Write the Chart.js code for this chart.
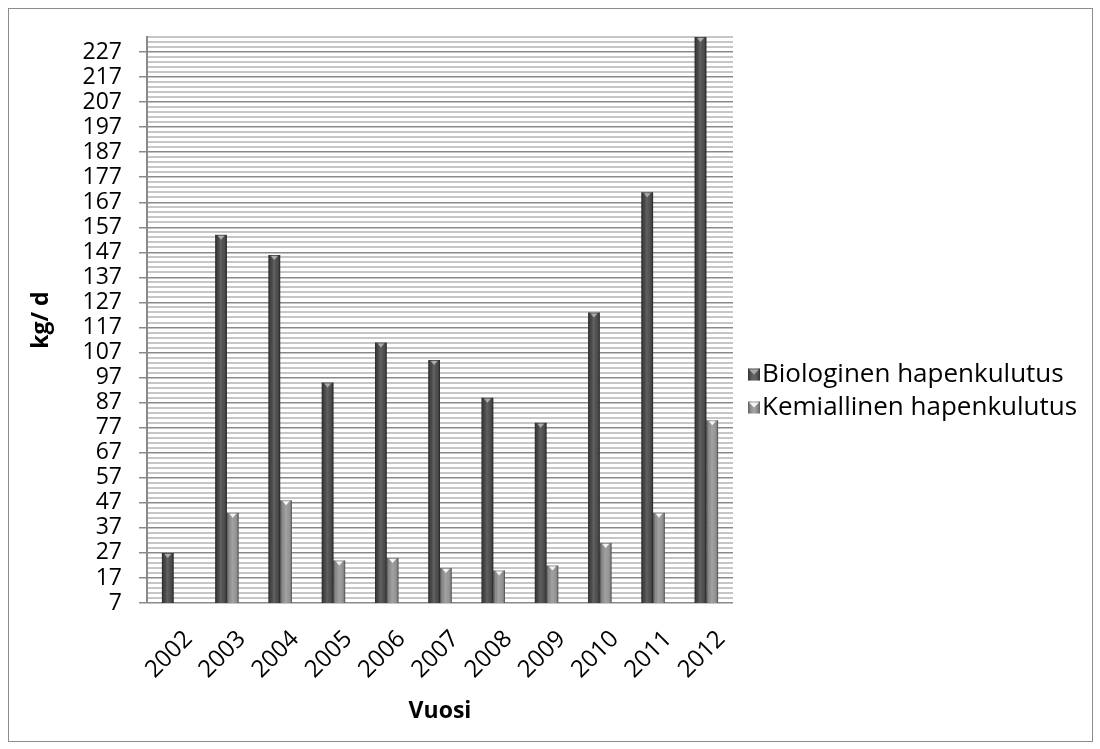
<!DOCTYPE html>
<html>
<head>
<meta charset="utf-8">
<script src="https://cdn.jsdelivr.net/npm/chart.js@4/dist/chart.umd.min.js"></script>
<style>
  html, body { margin: 0; padding: 0; background: #fff; }
  #wrap { position: relative; width: 1100px; height: 749px; }
  #frame { position: absolute; left: 8px; top: 8px; width: 1083px; height: 732px;
           border: 1px solid #8c8c8c; pointer-events: none; }
</style>
</head>
<body>
<div id="wrap">
  <canvas id="c" width="1100" height="749"></canvas>
  <div id="frame"></div>
</div>
<script>
// Years on the category axis
const years = ['2002', '2003', '2004', '2005', '2006', '2007', '2008', '2009', '2010', '2011', '2012'];
// Daily loads, kg/d
const biologinen = [27, 154, 146, 95, 111, 104, 89, 79, 123, 171, 233];
const kemiallinen = [null, 43, 48, 24, 25, 21, 20, 22, 31, 43, 80];
const seriesNames = ['Biologinen hapenkulutus', 'Kemiallinen hapenkulutus'];
// Value axis: labelled every 10 starting from 7, faint lines every 2
const axisMin = 7;
const axisMax = 233;
const minorStep = 2;
const majorStep = 10;

const FONT = '"Open Sans", "Noto Sans", sans-serif';
const barColors = ['#484848', '#939393'];

function isMajor(v) {
  return Math.round(v - axisMin) % majorStep === 0;
}

// Cylinder-like shading and the small highlight notch on each bar top
const barShading = {
  id: 'barShading',
  afterDatasetsDraw(chart) {
    const ctx = chart.ctx;
    const area = chart.chartArea;
    ctx.save();
    ctx.beginPath();
    ctx.rect(area.left, area.top - 1, area.right - area.left, area.bottom - area.top + 1);
    ctx.clip();
    chart.data.datasets.forEach((ds, di) => {
      const meta = chart.getDatasetMeta(di);
      meta.data.forEach((el, i) => {
        if (ds.data[i] == null) return;
        const p = el.getProps(['x', 'y', 'base', 'width'], true);
        const left = p.x - p.width / 2;
        const top = p.y;
        const bottom = Math.min(p.base, area.bottom);
        const g = ctx.createLinearGradient(left, 0, left + p.width, 0);
        g.addColorStop(0, 'rgba(0,0,0,0.45)');
        g.addColorStop(0.18, 'rgba(0,0,0,0.05)');
        g.addColorStop(0.45, 'rgba(255,255,255,0.14)');
        g.addColorStop(0.7, 'rgba(255,255,255,0.04)');
        g.addColorStop(0.88, 'rgba(0,0,0,0.12)');
        g.addColorStop(1, 'rgba(0,0,0,0.5)');
        ctx.fillStyle = g;
        ctx.fillRect(left, top, p.width, bottom - top);
        // notch
        ctx.fillStyle = di === 0 ? 'rgba(200,200,200,0.75)' : 'rgba(255,255,255,0.9)';
        ctx.beginPath();
        ctx.moveTo(p.x - p.width * 0.3, top + 1);
        ctx.lineTo(p.x + p.width * 0.3, top + 1);
        ctx.lineTo(p.x, top + 5);
        ctx.closePath();
        ctx.fill();
      });
    });
    ctx.restore();
  }
};

// Legend drawn to the right of the plot
const sideLegend = {
  id: 'sideLegend',
  afterDraw(chart) {
    const ctx = chart.ctx;
    const x0 = chart.chartArea.right + 15;
    const yMid = 391;
    const gap = 33;
    ctx.save();
    ctx.font = '26px ' + FONT;
    ctx.textBaseline = 'middle';
    ctx.textAlign = 'left';
    chart.data.datasets.forEach((ds, di) => {
      const cy = yMid + (di - 0.5) * gap;
      const s = 12;
      ctx.fillStyle = ds.backgroundColor;
      ctx.fillRect(x0, cy - s / 2, s, s);
      const g = ctx.createLinearGradient(x0, 0, x0 + s, 0);
      g.addColorStop(0, 'rgba(0,0,0,0.35)');
      g.addColorStop(0.5, 'rgba(255,255,255,0.15)');
      g.addColorStop(1, 'rgba(0,0,0,0.35)');
      ctx.fillStyle = g;
      ctx.fillRect(x0, cy - s / 2, s, s);
      ctx.fillStyle = di === 0 ? 'rgba(200,200,200,0.7)' : 'rgba(255,255,255,0.9)';
      ctx.beginPath();
      ctx.moveTo(x0 + 1, cy - s / 2 + 1);
      ctx.lineTo(x0 + s - 1, cy - s / 2 + 1);
      ctx.lineTo(x0 + s / 2, cy);
      ctx.closePath();
      ctx.fill();
      ctx.fillStyle = '#000';
      ctx.fillText(ds.label, x0 + s + 2, cy);
    });
    ctx.restore();
  }
};

new Chart(document.getElementById('c'), {
  type: 'bar',
  data: {
    labels: years,
    datasets: [
      { label: seriesNames[0], data: biologinen, backgroundColor: barColors[0] },
      { label: seriesNames[1], data: kemiallinen, backgroundColor: barColors[1] }
    ]
  },
  options: {
    responsive: false,
    animation: false,
    devicePixelRatio: 1,
    categoryPercentage: 0.44,
    barPercentage: 1.0,
    layout: { padding: { left: 24, right: 367, top: 37, bottom: 20 } },
    plugins: {
      legend: { display: false },
      tooltip: { enabled: false }
    },
    scales: {
      x: {
        grid: { display: false },
        border: { display: false },
        ticks: {
          color: '#000',
          font: { family: FONT, size: 24 },
          maxRotation: 45,
          minRotation: 45,
          padding: 14,
          labelOffset: 15
        },
        title: {
          display: true,
          text: 'Vuosi',
          color: '#000',
          font: { family: FONT, size: 23, weight: 'bold' },
          padding: { top: 4, bottom: 4 }
        },
        afterFit(scale) { scale.height = 126; }
      },
      y: {
        min: axisMin,
        max: axisMax,
        ticks: {
          stepSize: minorStep,
          autoSkip: false,
          color: '#000',
          font: { family: FONT, size: 23 },
          padding: 17,
          callback: v => (isMajor(v) ? String(Math.round(v)) : '')
        },
        grid: {
          color: c => (isMajor(c.tick.value) ? '#8a8a8a' : '#c6c6c6'),
          lineWidth: c => (isMajor(c.tick.value) ? 1.5 : 2),
          tickColor: c => (isMajor(c.tick.value) ? '#8a8a8a' : 'rgba(0,0,0,0)'),
          tickLength: 8
        },
        border: { color: '#8a8a8a', width: 2 },
        title: {
          display: true,
          text: 'kg/ d',
          color: '#000',
          font: { family: FONT, size: 23, weight: 'bold' },
          padding: { top: 4, bottom: 4 }
        },
        afterFit(scale) { scale.width = 123; }
      }
    }
  },
  plugins: [barShading, sideLegend]
});
</script>
</body>
</html>
